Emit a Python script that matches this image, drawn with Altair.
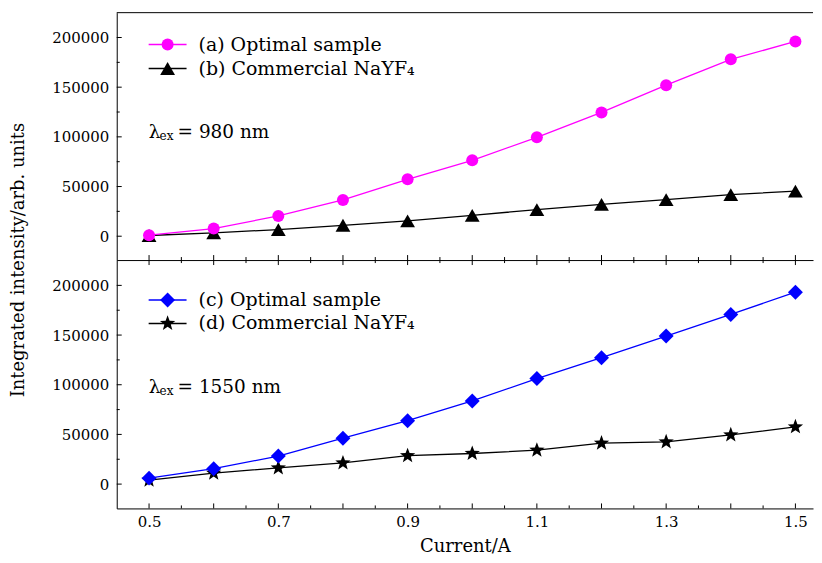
import altair as alt
import pandas as pd

# ---- data ----
current = [0.5, 0.6, 0.7, 0.8, 0.9, 1.0, 1.1, 1.2, 1.3, 1.4, 1.5]
a_opt_980 = [1000, 7700, 20400, 36500, 57300, 76400, 99500, 124600, 152000, 178000, 196000]
b_com_980 = [700, 3300, 6700, 11000, 15500, 21000, 26800, 32100, 36800, 41800, 45400]
c_opt_1550 = [6000, 15500, 28200, 46200, 63800, 83700, 106200, 127200, 149000, 170800, 193200]
d_com_1550 = [4000, 11000, 16300, 21300, 28600, 30800, 34100, 41200, 42500, 49500, 57600]

legend_top = ["(a) Optimal sample", "(b) Commercial NaYF\u2084"]
legend_bot = ["(c) Optimal sample", "(d) Commercial NaYF\u2084"]
lambda_top = "= 980 nm"
lambda_bot = "= 1550 nm"
y_title = "Integrated intensity/arb. units"
x_title = "Current/A"

x_major = [0.5, 0.6, 0.7, 0.8, 0.9, 1.0, 1.1, 1.2, 1.3, 1.4, 1.5]
x_labels = [0.5, 0.7, 0.9, 1.1, 1.3, 1.5]
x_minor = [0.55, 0.65, 0.75, 0.85, 0.95, 1.05, 1.15, 1.25, 1.35, 1.45]
y_major = [0, 50000, 100000, 150000, 200000]
y_minor = [25000, 75000, 125000, 175000]

FONT = "DejaVu Serif"
W = 698
XDOM = [0.45, 1.5272]
STAR = ("M0,-1L0.247,-0.34L0.951,-0.309L0.399,0.13L0.588,0.809L0,0.42"
        "L-0.588,0.809L-0.399,0.13L-0.951,-0.309L-0.247,-0.34Z")


def xscale():
    return alt.Scale(domain=XDOM, nice=False, zero=False)


def yscale(dom):
    return alt.Scale(domain=dom, nice=False, zero=False)


def data_layers(s, dom, xaxis, yaxis):
    xs, ys, col, shp, sz = s
    b = alt.Chart(pd.DataFrame({"x": xs, "y": ys}))
    ln = b.mark_line(color=col, strokeWidth=1.3).encode(
        x=alt.X("x:Q", scale=xscale(), axis=xaxis),
        y=alt.Y("y:Q", scale=yscale(dom), axis=yaxis))
    pt = b.mark_point(filled=True, color=col, shape=shp, size=sz, opacity=1).encode(
        x=alt.X("x:Q", scale=xscale(), axis=xaxis),
        y=alt.Y("y:Q", scale=yscale(dom), axis=yaxis))
    return [ln, pt]


def xticks(values, xaxis, H, size, top=False):
    b = alt.Chart(pd.DataFrame({"x": values}))
    y0, y1 = (0, size) if top else (H, H - size)
    return b.mark_rule(color="black", strokeWidth=1).encode(
        x=alt.X("x:Q", scale=xscale(), axis=xaxis),
        y=alt.value(y0), y2=alt.value(y1))


def yticks(values, dom, yaxis, size):
    b = alt.Chart(pd.DataFrame({"y": values}))
    return b.mark_rule(color="black", strokeWidth=1).encode(
        y=alt.Y("y:Q", scale=yscale(dom), axis=yaxis),
        x=alt.value(0), x2=alt.value(size))


def top_line():
    b = alt.Chart(pd.DataFrame({"v": [0]}))
    return b.mark_rule(color="black", strokeWidth=1).encode(
        x=alt.value(0), x2=alt.value(W), y=alt.value(0))


def legend_layers(labels, colors, shapes, sizes, y0, dy):
    layers = []
    for i, (lab, col, shp, sz) in enumerate(zip(labels, colors, shapes, sizes)):
        yy = y0 + i * dy
        b = alt.Chart(pd.DataFrame({"t": [lab]}))
        layers.append(b.mark_rule(color=col, strokeWidth=1.5).encode(
            x=alt.value(32), x2=alt.value(70), y=alt.value(yy)))
        layers.append(b.mark_point(filled=True, color=col, shape=shp, size=sz, opacity=1).encode(
            x=alt.value(51), y=alt.value(yy)))
        layers.append(b.mark_text(align="left", baseline="middle", font=FONT, fontSize=19,
                                  color="black").encode(
            x=alt.value(82), y=alt.value(yy), text="t:N"))
    return layers


def lambda_layers(rest, yy):
    b1 = alt.Chart(pd.DataFrame({"t": ["\u03bb"]}))
    b2 = alt.Chart(pd.DataFrame({"t": ["ex"]}))
    b3 = alt.Chart(pd.DataFrame({"t": [rest]}))
    return [
        b1.mark_text(align="left", baseline="middle", font=FONT, fontSize=18.5, color="black").encode(
            x=alt.value(32), y=alt.value(yy), text="t:N"),
        b2.mark_text(align="left", baseline="middle", font=FONT, fontSize=12, color="black").encode(
            x=alt.value(43), y=alt.value(yy + 4), text="t:N"),
        b3.mark_text(align="left", baseline="middle", font=FONT, fontSize=18.5, color="black").encode(
            x=alt.value(61), y=alt.value(yy), text="t:N"),
    ]


yaxis = alt.Axis(values=y_major, format="d", ticks=False, domain=True, domainColor="black",
                 grid=False, labelFont=FONT, labelFontSize=15, labelPadding=8,
                 labelColor="black", title="")
xaxis_top = alt.Axis(values=x_major, ticks=False, labels=False, domain=True,
                     domainColor="black", grid=False, title="")
xaxis_bot = alt.Axis(values=x_labels, format=".1f", ticks=False, domain=True,
                     domainColor="black", grid=False, labelFont=FONT, labelFontSize=15,
                     labelPadding=6, labelColor="black", title=x_title, titleFont=FONT,
                     titleFontSize=18, titleFontWeight="normal", titlePadding=8,
                     titleColor="black")

# ---- top panel ----
H1 = 248
dom_top = [-24000, 225000]
top_layers = (
    data_layers((current, b_com_980, "black", "triangle-up", 220), dom_top, xaxis_top, yaxis)
    + data_layers((current, a_opt_980, "#FF00FF", "circle", 145), dom_top, xaxis_top, yaxis)
    + [xticks(x_major, xaxis_top, H1, 5), xticks(x_minor, xaxis_top, H1, 3),
       yticks(y_major, dom_top, yaxis, 5), yticks(y_minor, dom_top, yaxis, 3), top_line()]
    + legend_layers(legend_top, ["#FF00FF", "black"], ["circle", "triangle-up"],
                    [145, 220], 32, 24)
    + lambda_layers(lambda_top, 119.5)
)
top = alt.layer(*top_layers).properties(width=W, height=H1)

# ---- bottom panel ----
H2 = 249
dom_bot = [-24500, 225500]
ytitle = alt.Chart(pd.DataFrame({"t": [y_title]})).mark_text(
    angle=270, align="center", baseline="middle", font=FONT, fontSize=18, color="black").encode(
    x=alt.value(-98), y=alt.value(0), text="t:N")
bot_layers = (
    data_layers((current, d_com_1550, "black", STAR, 260), dom_bot, xaxis_bot, yaxis)
    + data_layers((current, c_opt_1550, "#0000FF", "diamond", 225), dom_bot, xaxis_bot, yaxis)
    + [xticks(x_major, xaxis_bot, H2, 5), xticks(x_minor, xaxis_bot, H2, 3),
       xticks(x_major, xaxis_bot, H2, 5, top=True), xticks(x_minor, xaxis_bot, H2, 3, top=True),
       yticks(y_major, dom_bot, yaxis, 5), yticks(y_minor, dom_bot, yaxis, 3)]
    + legend_layers(legend_bot, ["#0000FF", "black"], ["diamond", STAR],
                    [225, 260], 40, 23.5)
    + lambda_layers(lambda_bot, 127.7)
    + [ytitle]
)
bot = alt.layer(*bot_layers).properties(width=W, height=H2)

chart = alt.vconcat(top, bot, spacing=0, bounds="flush").properties(
    padding={"left": 1, "top": 3, "right": 0, "bottom": 0}
).configure_view(strokeWidth=0)

chart.save("out.html", embed_options={"renderer": "svg", "actions": False})
